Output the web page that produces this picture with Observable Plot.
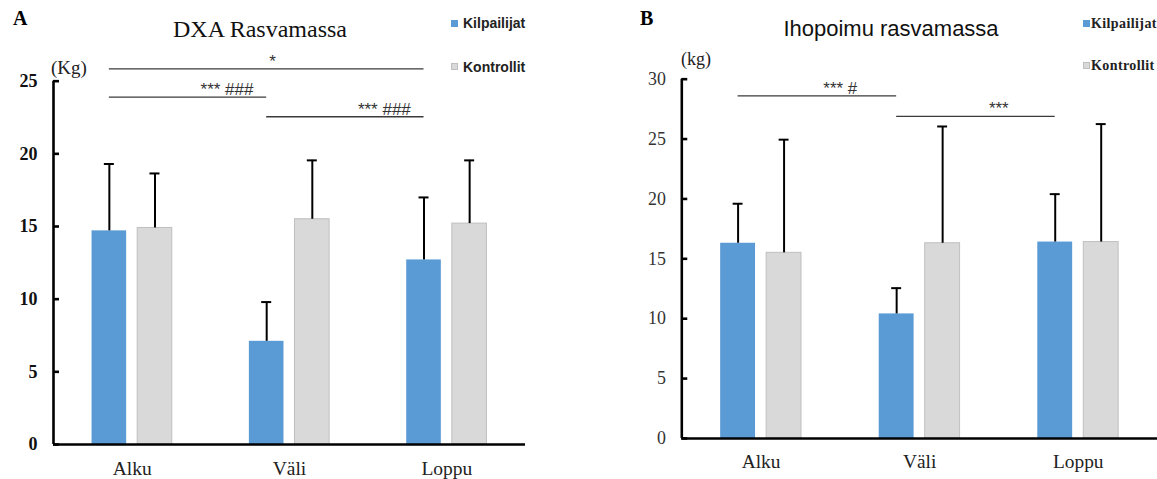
<!DOCTYPE html>
<html>
<head>
<meta charset="utf-8">
<script src="https://cdn.jsdelivr.net/npm/d3@7"></script>
<script src="https://cdn.jsdelivr.net/npm/@observablehq/plot@0.6"></script>
<style>
  html, body { margin: 0; padding: 0; background: #fff; overflow: hidden; }
  #fig { position: relative; width: 1157px; height: 479px; overflow: hidden; }
  #panelA { position: absolute; left: 0; top: 0; }
  #panelB { position: absolute; left: 580px; top: 0; }
  #labels { position: absolute; left: 0; top: 0; pointer-events: none; }
</style>
</head>
<body>
<div id="fig">
  <div id="panelA"></div>
  <div id="panelB"></div>
  <svg id="labels" width="1157" height="479" xmlns="http://www.w3.org/2000/svg">
    <!-- Panel A headings and legend -->
    <text x="13" y="25" font-family="Liberation Serif" font-weight="bold" font-size="20" fill="#000">A</text>
    <text x="260" y="36.5" text-anchor="middle" font-family="Liberation Serif" font-size="24" fill="#111">DXA Rasvamassa</text>
    <rect x="451" y="20" width="7" height="7" fill="#5B9BD5"></rect>
    <text x="463" y="28" font-family="Liberation Sans" font-weight="bold" font-size="14" fill="#222">Kilpailijat</text>
    <rect x="451.5" y="63.5" width="6" height="6" fill="#D9D9D9" stroke="#BFBFBF"></rect>
    <text x="463" y="71.5" font-family="Liberation Sans" font-weight="bold" font-size="14" fill="#222">Kontrollit</text>
    <text x="51" y="73.5" font-family="Liberation Serif" font-size="19" fill="#222">(Kg)</text>
    <!-- Panel B headings and legend -->
    <text x="640" y="25" font-family="Liberation Serif" font-weight="bold" font-size="20" fill="#000">B</text>
    <text x="891" y="36" text-anchor="middle" font-family="Liberation Sans" font-size="22" fill="#111">Ihopoimu rasvamassa</text>
    <rect x="1083" y="20" width="7" height="7" fill="#5B9BD5"></rect>
    <text x="1091" y="28" font-family="Liberation Serif" font-weight="bold" font-size="14" letter-spacing="0.4" fill="#222">Kilpailijat</text>
    <rect x="1083.5" y="62.5" width="6" height="6" fill="#D9D9D9" stroke="#BFBFBF"></rect>
    <text x="1091" y="70" font-family="Liberation Serif" font-weight="bold" font-size="14" letter-spacing="0.4" fill="#222">Kontrollit</text>
    <text x="681" y="65" font-family="Liberation Serif" font-size="18" fill="#222">(kg)</text>
  </svg>
</div>
<script>
// Measurement points and groups
const categories = ["Alku", "Väli", "Loppu"];
const seriesNames = ["Kilpailijat", "Kontrollit"];
const seriesFills = ["#5B9BD5", "#D9D9D9"];
const seriesStrokes = ["none", "#BFBFBF"];

// A: DXA fat mass (kg), mean and SD
const dxaKilpailijat = [14.7, 7.1, 12.7];
const dxaKilpailijatSD = [4.6, 2.7, 4.3];
const dxaKontrollit = [14.9, 15.5, 15.2];
const dxaKontrollitSD = [3.75, 4.05, 4.35];
const dxaTicks = [0, 5, 10, 15, 20, 25];
const dxaSignificance = [
  {from: "Alku", to: "Loppu", level: 25.85, label: "*"},
  {from: "Alku", to: "Väli", level: 23.9, label: "*** ###"},
  {from: "Väli", to: "Loppu", level: 22.55, label: "*** ###"}
];

// B: skinfold fat mass (kg), mean and SD
const skinKilpailijat = [16.3, 10.4, 16.4];
const skinKilpailijatSD = [3.3, 2.15, 4.0];
const skinKontrollit = [15.5, 16.3, 16.4];
const skinKontrollitSD = [9.45, 9.75, 9.85];
const skinTicks = [0, 5, 10, 15, 20, 25, 30];
const skinSignificance = [
  {from: "Alku", to: "Väli", level: 28.6, label: "*** #"},
  {from: "Väli", to: "Loppu", level: 26.9, label: "***"}
];

// Bar layout within each measurement point (in category units)
const groupOffset = {Kilpailijat: -0.145, Kontrollit: 0.145};
const barWidth = 0.22;
const xDomain = [-0.5, categories.length - 0.5];

function rowsOf(k, kSD, c, cSD) {
  return categories.flatMap((cat, i) => [
    {cat, i, series: seriesNames[0], value: k[i], sd: kSD[i]},
    {cat, i, series: seriesNames[1], value: c[i], sd: cSD[i]}
  ]);
}

const center = d => d.i + groupOffset[d.series];
const pairCenter = (cat) => categories.indexOf(cat) + groupOffset[seriesNames[0]];

function panel(rows, ticks, significance, opts) {
  const marks = [];
  seriesNames.forEach((s, si) => {
    marks.push(Plot.rectY(rows.filter(d => d.series === s), {
      x1: d => center(d) - barWidth / 2,
      x2: d => center(d) + barWidth / 2,
      y1: 0,
      y2: "value",
      fill: seriesFills[si],
      stroke: seriesStrokes[si],
      strokeWidth: 1
    }));
  });
  // Upper SD whiskers with caps
  marks.push(Plot.ruleX(rows, {x: center, y1: "value", y2: d => d.value + d.sd, stroke: "#000", strokeWidth: 2}));
  marks.push(Plot.ruleY(rows, {y: d => d.value + d.sd, x1: center, x2: center, insetLeft: -5, insetRight: -5, stroke: "#000", strokeWidth: 2}));
  // Axis lines and inward ticks
  marks.push(Plot.ruleY([0], {stroke: "#000", strokeWidth: 2.6}));
  marks.push(Plot.ruleX([xDomain[0]], {y1: 0, y2: ticks[ticks.length - 1], stroke: "#000", strokeWidth: 2.6}));
  marks.push(Plot.ruleY(ticks, {x1: xDomain[0], x2: xDomain[0], insetRight: -6, stroke: "#000", strokeWidth: 2.6}));
  marks.push(Plot.axisY({
    ticks, tickSize: 0, tickPadding: 16,
    fontFamily: "Liberation Serif", fontSize: opts.tickFontSize, fontWeight: opts.tickWeight,
    color: opts.tickColor
  }));
  marks.push(Plot.axisX({
    ticks: categories.map((_, i) => i), tickFormat: i => categories[i],
    tickSize: 0, tickPadding: opts.xPadding,
    fontFamily: "Liberation Serif", fontSize: 19.5, color: "#222"
  }));
  // Significance brackets between Kilpailijat bars
  marks.push(Plot.ruleY(significance, {
    y: "level", x1: d => pairCenter(d.from), x2: d => pairCenter(d.to),
    stroke: "#3a3a3a", strokeWidth: 1.3
  }));
  significance.forEach(s => {
    marks.push(Plot.text([s], {
      x: d => (pairCenter(d.from) + pairCenter(d.to)) / 2,
      y: "level", text: "label",
      lineAnchor: "bottom", dy: -2,
      dx: s.label.length > 1 ? opts.longDx : opts.shortDx,
      fontFamily: "Liberation Sans", fontSize: 17, fill: "#333",
      letterSpacing: 0.6
    }));
  });
  return Plot.plot({
    width: opts.width, height: 479,
    marginLeft: opts.marginLeft, marginRight: opts.marginRight,
    marginTop: opts.marginTop, marginBottom: opts.marginBottom,
    x: {type: "linear", domain: xDomain},
    y: {domain: opts.yDomain},
    style: {background: "transparent", overflow: "visible"},
    marks
  });
}

document.getElementById("panelA").append(panel(
  rowsOf(dxaKilpailijat, dxaKilpailijatSD, dxaKontrollit, dxaKontrollitSD),
  dxaTicks, dxaSignificance,
  {width: 580, marginLeft: 53, marginRight: 55, marginTop: 8, marginBottom: 35, yDomain: [0, 30],
   tickFontSize: 18, tickWeight: "bold", tickColor: "#111", xPadding: 16.5, longDx: 39, shortDx: 6}
));

document.getElementById("panelB").append(panel(
  rowsOf(skinKilpailijat, skinKilpailijatSD, skinKontrollit, skinKontrollitSD),
  skinTicks, skinSignificance,
  {width: 581, marginLeft: 102, marginRight: 0, marginTop: 31, marginBottom: 38, yDomain: [0, 34],
   tickFontSize: 18, tickWeight: "normal", tickColor: "#333", xPadding: 16, longDx: 23, shortDx: 23}
));
</script>
</body>
</html>
